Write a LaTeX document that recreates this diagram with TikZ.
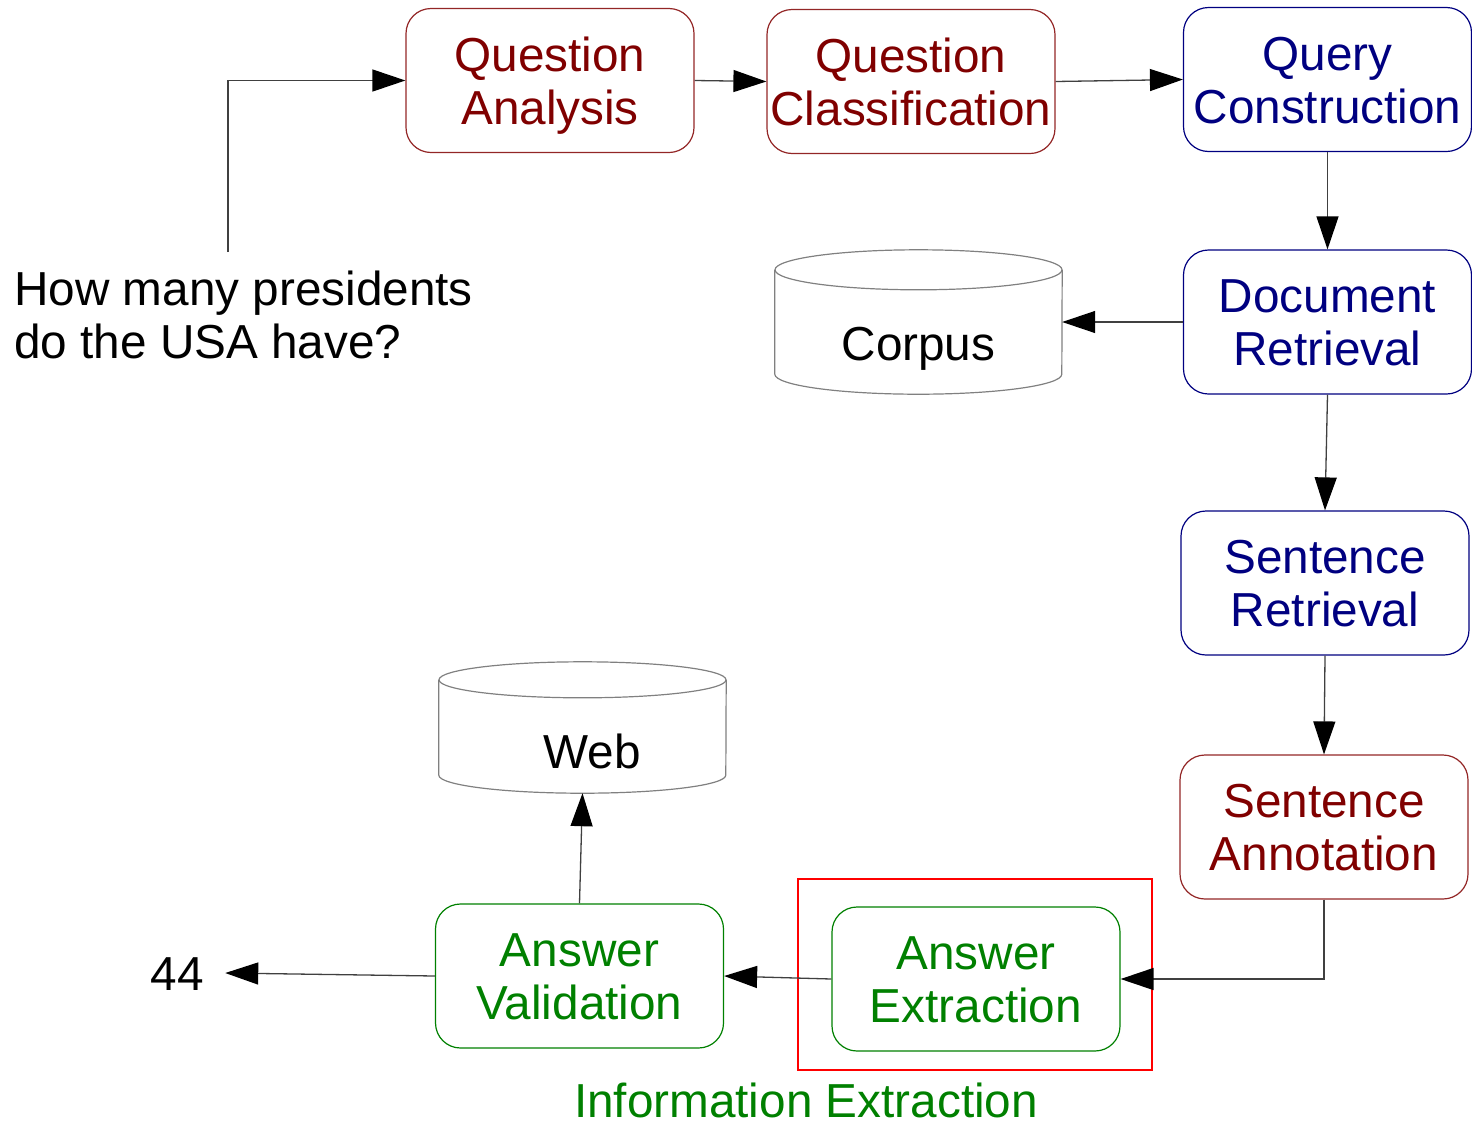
\documentclass[tikz,border=0pt]{standalone}
\usepackage{fontspec}
\setmainfont{Liberation Sans}
\usetikzlibrary{arrows.meta}
\definecolor{qred}{HTML}{800000}
\definecolor{qblue}{HTML}{000080}
\definecolor{qgreen}{HTML}{008000}
\newcommand{\twol}[2]{\rule{0pt}{46pt}#1\\#2\rule[-12pt]{0pt}{12pt}}
\begin{document}
\begin{tikzpicture}[x=1pt,y=1pt,
  every node/.style={font=\fontsize{47.7}{53}\selectfont},
  stage/.style={draw, rounded corners=25pt, minimum width=288pt, minimum height=144pt, align=center, inner sep=0pt, line width=1.2pt},
  redst/.style={stage, draw=qred!85, text=qred},
  bluest/.style={stage, draw=qblue, text=qblue},
  greenst/.style={stage, draw=qgreen, text=qgreen},
  conn/.style={draw=black!75, line width=1.3pt, -{Triangle[length=33pt,width=22pt,color=black]}},
  cyl/.style={draw=black!50, line width=1.2pt}
]
\useasboundingbox (0,0) rectangle (1472,-1125);

% stages
\node[redst] (qa) at (550,-80.5) {\twol{Question}{Analysis}};
\node[redst] (qc) at (911,-81.5) {\twol{Question}{Classification}};
\node[bluest] (qcon) at (1327.5,-79.5) {\twol{Query}{Construction}};
\node[bluest] (dr) at (1327.5,-322) {\twol{Document}{Retrieval}};
\node[bluest] (sr) at (1325,-583) {\twol{Sentence}{Retrieval}};
\node[redst] (sa) at (1324,-827) {\twol{Sentence}{Annotation}};
\node[draw=red, line width=1.2pt, minimum width=354pt, minimum height=191pt, inner sep=0pt] (iebox) at (975,-974.5) {};
\node[greenst] (ae) at (976,-979) {\twol{Answer}{Extraction}};
\node[greenst] (av) at (579.5,-976) {\twol{Answer}{Validation}};
\node[text=qgreen, anchor=base, inner sep=0pt, text depth=0pt] (ielabel) at (806,-1117) {Information Extraction};

% question and answer
\node[anchor=north west, align=left, inner sep=0pt] (question) at (14,-270) {\rule{0pt}{35pt}How many presidents\\do the USA have?};
\node[inner xsep=21pt, inner ysep=0pt, text height=34pt, text depth=0pt] (ans) at (177.5,-973) {44};
\coordinate (qstart) at (228,-252);

% databases
\node[minimum width=287pt, inner sep=0pt, text height=110pt, text depth=34pt] (corpus) at (918.5,-322) {Corpus};
\draw[cyl] (corpus.north) ++(0,-20) ellipse [x radius=143.5, y radius=20];
\draw[cyl] ([yshift=-20pt]corpus.north west) -- ([yshift=20pt]corpus.south west)
  arc[start angle=180, end angle=360, x radius=143.5, y radius=20]
  -- ([yshift=-20pt]corpus.north east);

\node[minimum width=287pt, inner sep=0pt, text height=106pt, text depth=25pt] (web) at (582.5,-727.5) {\hspace*{19pt}Web};
\draw[cyl] (web.north) ++(0,-18) ellipse [x radius=143.5, y radius=18];
\draw[cyl] ([yshift=-18pt]web.north west) -- ([yshift=18pt]web.south west)
  arc[start angle=180, end angle=360, x radius=143.5, y radius=18]
  -- ([yshift=-18pt]web.north east);

% connectors
\draw[conn] (qstart) |- (qa.west);
\draw[conn] (qa.east) -- (qc.west);
\draw[conn] (qc.east) -- (qcon.west);
\draw[conn] (qcon.south) -- (dr.north);
\draw[conn] (dr.west) -- (corpus.east);
\draw[conn] (dr.south) -- (sr.north);
\draw[conn] (sr.south) -- (sa.north);
\draw[conn] (sa.south) |- (ae.east);
\draw[conn] (ae.west) -- (av.east);
\draw[conn] (av.north) -- (web.south);
\draw[conn] (av.west) -- (ans.east);
\end{tikzpicture}
\end{document}
